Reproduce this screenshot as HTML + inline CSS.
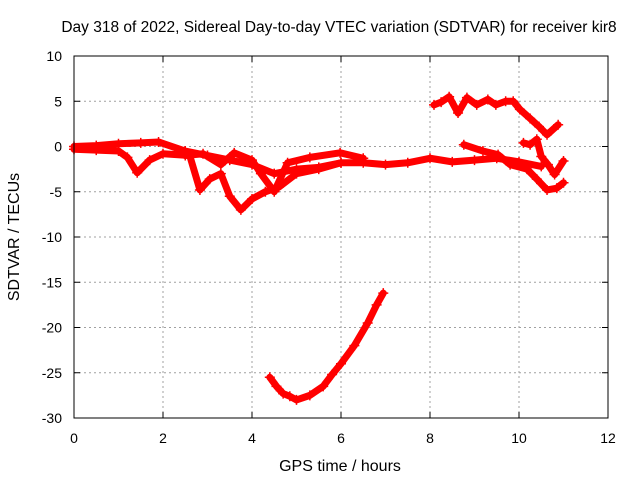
<!DOCTYPE html>
<html><head><meta charset="utf-8"><style>
body{margin:0;background:#fff}
svg{display:block;font-family:"Liberation Sans",sans-serif}
</style></head><body>
<svg id="c" width="640" height="480">
<text x="339" y="32" font-size="15.5" text-anchor="middle">Day 318 of 2022, Sidereal Day-to-day VTEC variation (SDTVAR) for receiver kir8</text>
<text x="340" y="471" font-size="16" text-anchor="middle">GPS time / hours</text>
<text transform="translate(19,237) rotate(-90)" font-size="16" text-anchor="middle">SDTVAR / TECUs</text>
<g id="grid"></g><g id="series"></g>
<rect x="74" y="56" width="534" height="362" fill="none" stroke="#000"/>
</svg>
<script>
const xTicks=[0,2,4,6,8,10,12];
const yTicks=[10,5,0,-5,-10,-15,-20,-25,-30];
const seriesTop=[[8.09,4.6],[8.25,4.9],[8.43,5.5],[8.63,3.7],[8.83,5.4],[9.05,4.6],[9.3,5.2],[9.48,4.6],[9.7,5.0],[9.87,5.0],[10.02,4.1],[10.25,3.1],[10.45,2.2],[10.63,1.3],[10.88,2.4]];
const seriesRight=[[8.76,0.2],[9.19,-0.5],[9.53,-0.9],[9.8,-2],[10.18,-2.5],[10.4,-3.6],[10.63,-4.8],[10.85,-4.6],[11.0,-4.0]];
const seriesSmall=[[10.1,0.4],[10.25,0.2],[10.4,0.8],[10.5,-1.1],[10.65,-2.0],[10.8,-3.1],[11.0,-1.6]];
const seriesMain=[[0,0],[0.5,0.1],[1,0.3],[1.5,0.4],[1.9,0.5],[2.5,-0.5],[3,-1],[3.5,-1.5],[4,-2],[4.5,-3],[5,-2.5],[5.5,-2.3],[6,-1.8],[6.5,-1.8],[7,-2],[7.5,-1.8],[8,-1.3],[8.5,-1.7],[9,-1.5],[9.5,-1.3],[10,-1.7],[10.5,-2.2]];
const seriesLow=[[0,-0.3],[0.5,-0.4],[1,-0.5],[1.2,-1.2],[1.42,-2.9],[1.7,-1.5],[2,-0.8],[2.6,-1],[2.83,-4.8],[3.05,-3.6],[3.3,-3],[3.5,-5.5],[3.75,-7],[4.0,-5.8],[4.3,-5],[4.6,-4.5],[5,-3],[5.5,-2.5],[6,-1.8]];
const seriesMid=[[2.5,-1],[2.9,-0.8],[3.3,-2],[3.6,-0.7],[4,-1.5],[4.2,-3],[4.5,-5],[4.8,-1.8],[5.3,-1.2],[5.98,-0.7],[6.5,-1.3]];
const seriesBottom=[[4.4,-25.5],[4.55,-26.5],[4.7,-27.3],[4.85,-27.6],[5,-28],[5.3,-27.5],[5.6,-26.5],[5.8,-25.2],[6,-24],[6.3,-22],[6.6,-19.5],[6.8,-17.5],[6.95,-16.2]];
const allSeries=[seriesTop,seriesRight,seriesSmall,seriesMain,seriesLow,seriesMid,seriesBottom];
const X=h=>74+h*534/12, Y=v=>56+(10-v)*362/40;
const NS="http://www.w3.org/2000/svg";
const g=document.getElementById('grid'), s=document.getElementById('series');
function mk(t,a,p){const e=document.createElementNS(NS,t);for(const k in a)e.setAttribute(k,a[k]);p.appendChild(e);return e;}
xTicks.forEach(t=>{
  if(t>0&&t<12){const l=mk('line',{x1:X(t),x2:X(t),y1:56,y2:418,stroke:'#a0a0a0','stroke-dasharray':'2,3'},g);
  
  }
  mk('line',{x1:X(t),x2:X(t),y1:418,y2:412,stroke:'#000'},g);
  mk('line',{x1:X(t),x2:X(t),y1:56,y2:62,stroke:'#000'},g);
  const tx=mk('text',{x:X(t),y:443,'font-size':14,'text-anchor':'middle'},g);tx.textContent=t;
  
  
});
yTicks.forEach(t=>{
  if(t<10&&t>-30){const l=mk('line',{x1:74,x2:608,y1:Y(t),y2:Y(t),stroke:'#a0a0a0','stroke-dasharray':'2,3'},g);
  
  }
  mk('line',{x1:74,x2:80,y1:Y(t),y2:Y(t),stroke:'#000'},g);
  mk('line',{x1:602,x2:608,y1:Y(t),y2:Y(t),stroke:'#000'},g);
  const tx=mk('text',{x:62,y:Y(t)+5,'font-size':14,'text-anchor':'end'},g);tx.textContent=t;
  
  
});
allSeries.forEach((ser,i)=>{
  const pl=mk('polyline',{points:ser.map(p=>X(p[0])+','+Y(p[1])).join(' '),fill:'none',stroke:'#f00','stroke-width':7,'stroke-linejoin':'round','stroke-linecap':'round'},s);
  
  
  ser.forEach(p=>{
    const m=mk('path',{d:`M${X(p[0])-5},${Y(p[1])}h10M${X(p[0])},${Y(p[1])-5}v10`,stroke:'#f00','stroke-width':1.5},s);
    
    
  });
});
</script>
</body></html>
